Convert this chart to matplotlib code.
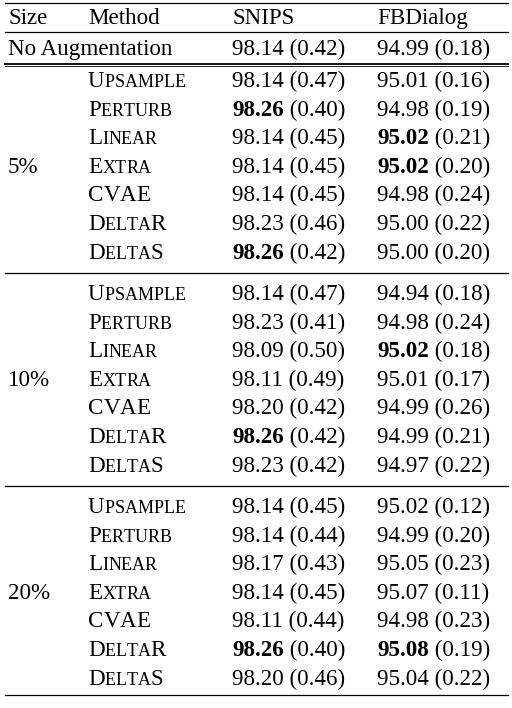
import matplotlib
matplotlib.use("Agg")
import matplotlib.pyplot as plt

sizes = ["5%", "10%", "20%"]
methods = ["Upsample", "Perturb", "Linear", "Extra", "CVAE", "DeltaR", "DeltaS"]
snips = [
    ["98.14 (0.47)", "98.26 (0.40)", "98.14 (0.45)", "98.14 (0.45)", "98.14 (0.45)", "98.23 (0.46)", "98.26 (0.42)"],
    ["98.14 (0.47)", "98.23 (0.41)", "98.09 (0.50)", "98.11 (0.49)", "98.20 (0.42)", "98.26 (0.42)", "98.23 (0.42)"],
    ["98.14 (0.45)", "98.14 (0.44)", "98.17 (0.43)", "98.14 (0.45)", "98.11 (0.44)", "98.26 (0.40)", "98.20 (0.46)"],
]
fbdialog = [
    ["95.01 (0.16)", "94.98 (0.19)", "95.02 (0.21)", "95.02 (0.20)", "94.98 (0.24)", "95.00 (0.22)", "95.00 (0.20)"],
    ["94.94 (0.18)", "94.98 (0.24)", "95.02 (0.18)", "95.01 (0.17)", "94.99 (0.26)", "94.99 (0.21)", "94.97 (0.22)"],
    ["95.02 (0.12)", "94.99 (0.20)", "95.05 (0.23)", "95.07 (0.11)", "94.98 (0.23)", "95.08 (0.19)", "95.04 (0.22)"],
]
# (group, row) indices of bold entries
bold_snips = {(0, 1), (0, 6), (1, 5), (2, 5)}
bold_fb = {(0, 2), (0, 3), (1, 2), (2, 5)}
no_aug = ["98.14 (0.42)", "94.99 (0.18)"]

W, H = 512, 708
fig = plt.figure(figsize=(W / 100, H / 100), dpi=100)
ax = fig.add_axes([0, 0, 1, 1])
ax.set_xlim(0, W)
ax.set_ylim(H, 0)
ax.axis("off")
FONT = "Liberation Serif"
FS = 16.6
r = fig.canvas.get_renderer()


def put(x, y, s, size=FS, weight="normal"):
    t = ax.text(x, y, s, fontsize=size, family=FONT, weight=weight, va="baseline", ha="left")
    bb = t.get_window_extent(renderer=r)
    return x + bb.width


def smallcaps(x, y, s):
    for ch in s:
        if ch.isupper():
            x = put(x, y, ch)
        else:
            x = put(x, y, ch.upper(), size=FS * 0.78)


def cell(x, y, s, bold):
    if bold:
        num, rest = s.split(" ", 1)
        x = put(x, y, num, weight="bold")
        put(x, y, " " + rest)
    else:
        put(x, y, s)


def hline(y, lw=0.9):
    ax.plot([5, 508], [y, y], color="black", lw=lw)


col_size, col_meth, col_snips, col_fb = 8, 88, 232, 377
hline(3)
put(col_size, 24, "Size")
put(col_meth, 24, "Method")
put(col_snips, 24, "SNIPS")
put(col_fb, 24, "FBDialog")
hline(32)
put(col_size, 55, "No Augmentation")
put(col_snips, 55, no_aug[0])
put(col_fb, 55, no_aug[1])
hline(64, 1.3)
hline(66, 0.6)

starts = [87, 300, 513]
step = 28.6
for g, sz in enumerate(sizes):
    y0 = starts[g]
    for i, m in enumerate(methods):
        y = y0 + i * step
        smallcaps(col_meth, y, m)
        cell(col_snips, y, snips[g][i], (g, i) in bold_snips)
        cell(col_fb, y, fbdialog[g][i], (g, i) in bold_fb)
    put(col_size, y0 + 3 * step, sz)
    if g < 2:
        hline(y0 + 6 * step + 14)
hline(695)

fig.savefig("out.png", dpi=100)
